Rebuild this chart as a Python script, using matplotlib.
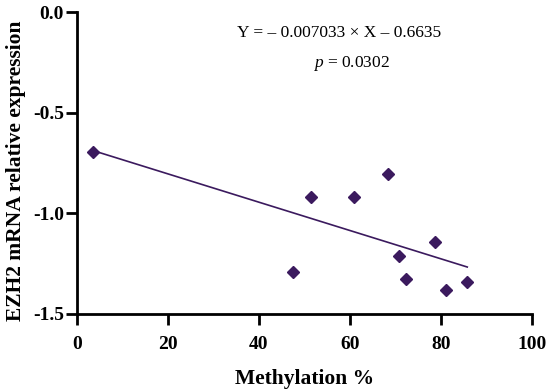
import matplotlib
matplotlib.use("Agg")
import matplotlib.pyplot as plt
import numpy as np

methylation = [3.5, 47.5, 51.4, 60.9, 68.3, 78.6, 70.8, 72.3, 81.2, 85.8]
expression = [-0.695, -1.290, -0.921, -0.921, -0.803, -1.144, -1.214, -1.325, -1.381, -1.343]
slope = -0.007033
intercept = -0.6635
x_ticks = [0, 20, 40, 60, 80, 100]
y_ticks = [0.0, -0.5, -1.0, -1.5]

plt.rcParams["mathtext.fontset"] = "custom"
plt.rcParams["mathtext.rm"] = "Liberation Serif"
plt.rcParams["mathtext.it"] = "Liberation Serif:italic"

color = "#3b1a5e"
serif = ["Liberation Serif", "DejaVu Serif"]

fig = plt.figure(figsize=(5.5, 3.89), dpi=100)
ax = fig.add_axes([0.14, 0.193, 0.827, 0.776])

xs = np.array([min(methylation), max(methylation)])
ax.plot(xs, slope * xs + intercept, color=color, lw=1.2, zorder=2)
ax.plot(methylation, expression, linestyle="none", marker="D", ms=6.5,
        color=color, zorder=3)

ax.set_xlim(0, 100)
ax.set_ylim(-1.5, 0.0)
ax.set_xticks(x_ticks)
ax.set_yticks(y_ticks)
ax.set_xticklabels([str(t) for t in x_ticks], fontfamily=serif, fontweight="bold", fontsize=14)
ax.set_yticklabels([f"{t:.1f}" for t in y_ticks], fontfamily=serif, fontweight="bold", fontsize=14)
for s in ["top", "right"]:
    ax.spines[s].set_visible(False)
for s in ["left", "bottom"]:
    ax.spines[s].set_linewidth(2.0)
ax.tick_params(direction="out", length=8, width=2.0)
ax.tick_params(axis="x", pad=8)
ax.tick_params(axis="y", pad=1.5)
ax.set_xlabel("Methylation %", fontfamily=serif, fontweight="bold", fontsize=15.5)
ax.set_ylabel("EZH2 mRNA relative expression", fontfamily=serif, fontweight="bold", fontsize=15.5)
ax.xaxis.set_label_coords(0.501, -0.182)
ax.yaxis.set_label_coords(-0.112, 0.474)

ax.text(0.576, 0.930, "Y = \u2013 0.007033 \u00d7 X \u2013 0.6635", transform=ax.transAxes,
        ha="center", va="center", fontfamily=serif, fontsize=12.5)
ax.text(0.604, 0.831, "$p$ = 0.0302", transform=ax.transAxes,
        ha="center", va="center", fontfamily=serif, fontsize=12.5)

fig.savefig("out.png", dpi=100)
